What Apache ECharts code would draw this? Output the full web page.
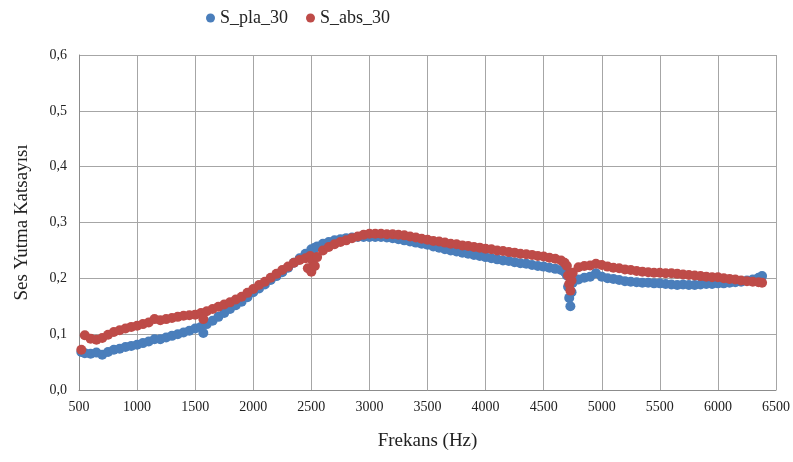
<!DOCTYPE html>
<html>
<head>
<meta charset="utf-8">
<script src="https://cdn.jsdelivr.net/npm/echarts@6/dist/echarts.min.js"></script>
<style>
  html, body { margin: 0; padding: 0; background: #fff; }
  #chart { width: 793px; height: 462px; }
</style>
</head>
<body>
<div id="chart"></div>
<script>
// frekans (Hz)
const freqs = [
  520, 550, 600, 650, 700, 750, 800, 850, 900, 950,
  1000, 1050, 1100, 1150, 1200, 1250, 1300, 1350, 1400, 1450,
  1500, 1550, 1570, 1600, 1650, 1700, 1750, 1800, 1850, 1900,
  1950, 2000, 2050, 2100, 2150, 2200, 2250, 2300, 2350, 2400,
  2450, 2470, 2490, 2500, 2510, 2530, 2550, 2600, 2650, 2700,
  2750, 2800, 2850, 2900, 2950, 3000, 3050, 3100, 3150, 3200,
  3250, 3300, 3350, 3400, 3450, 3500, 3550, 3600, 3650, 3700,
  3750, 3800, 3850, 3900, 3950, 4000, 4050, 4100, 4150, 4200,
  4250, 4300, 4350, 4400, 4450, 4500, 4550, 4600, 4650, 4680,
  4700, 4710, 4720, 4730, 4740, 4750, 4800, 4850, 4900, 4950,
  5000, 5050, 5100, 5150, 5200, 5250, 5300, 5350, 5400, 5450,
  5500, 5550, 5600, 5650, 5700, 5750, 5800, 5850, 5900, 5950,
  6000, 6050, 6100, 6150, 6200, 6250, 6300, 6350, 6380
];

const plaValues = [
  0.068, 0.066, 0.065, 0.067, 0.063, 0.068, 0.072, 0.074, 0.077, 0.079,
  0.081, 0.084, 0.087, 0.091, 0.091, 0.094, 0.097, 0.100, 0.103, 0.106,
  0.110, 0.113, 0.102, 0.118, 0.124, 0.131, 0.138, 0.145, 0.152, 0.158,
  0.166, 0.175, 0.182, 0.189, 0.197, 0.204, 0.211, 0.219, 0.228, 0.236,
  0.244, 0.238, 0.246, 0.252, 0.248, 0.255, 0.257, 0.262, 0.265, 0.268,
  0.270, 0.272, 0.273, 0.274, 0.274, 0.274, 0.274, 0.274, 0.273, 0.272,
  0.270, 0.268, 0.266, 0.264, 0.262, 0.260, 0.257, 0.255, 0.252, 0.250,
  0.248, 0.246, 0.244, 0.242, 0.240, 0.238, 0.236, 0.234, 0.232, 0.231,
  0.229, 0.227, 0.226, 0.224, 0.222, 0.221, 0.219, 0.217, 0.215, 0.212,
  0.205, 0.185, 0.165, 0.150, 0.175, 0.192, 0.198, 0.201, 0.203, 0.209,
  0.203, 0.200, 0.199, 0.197, 0.195, 0.194, 0.193, 0.192, 0.192, 0.191,
  0.191, 0.190, 0.189, 0.188, 0.189, 0.188, 0.188, 0.189, 0.190, 0.190,
  0.191, 0.191, 0.192, 0.193, 0.194, 0.196, 0.198, 0.201, 0.204
];

const absValues = [
  0.072, 0.098, 0.092, 0.090, 0.093, 0.099, 0.104, 0.107, 0.110, 0.113,
  0.115, 0.118, 0.121, 0.127, 0.125, 0.127, 0.129, 0.131, 0.133, 0.134,
  0.135, 0.138, 0.127, 0.141, 0.145, 0.149, 0.153, 0.157, 0.162, 0.167,
  0.174, 0.181, 0.188, 0.194, 0.201, 0.208, 0.215, 0.221, 0.228, 0.233,
  0.236, 0.218, 0.240, 0.212, 0.232, 0.222, 0.238, 0.250, 0.256, 0.261,
  0.265, 0.268, 0.272, 0.275, 0.278, 0.280, 0.280, 0.280, 0.279, 0.279,
  0.278, 0.277, 0.275, 0.273, 0.271, 0.269, 0.267, 0.266, 0.264, 0.262,
  0.261, 0.259, 0.258, 0.256, 0.255, 0.253, 0.252, 0.250, 0.249, 0.247,
  0.246, 0.244, 0.243, 0.242, 0.240, 0.239, 0.237, 0.235, 0.232, 0.228,
  0.222, 0.205, 0.190, 0.178, 0.196, 0.210, 0.220, 0.222, 0.223, 0.226,
  0.224, 0.221, 0.219, 0.218, 0.216, 0.215, 0.213, 0.212, 0.211, 0.210,
  0.210, 0.209, 0.209, 0.208, 0.207, 0.206, 0.205, 0.204, 0.203, 0.202,
  0.202, 0.200, 0.199, 0.198, 0.196, 0.195, 0.194, 0.193, 0.192
];

const seriesNames = ['S_pla_30', 'S_abs_30'];
const seriesColors = ['#4a7ebb', '#be4b48'];

const serif = 'Liberation Serif, Times New Roman, serif';

const pairs = (ys) => freqs.map((f, i) => [f, ys[i]]);

const chart = echarts.init(document.getElementById('chart'), null, { renderer: 'canvas' });

chart.setOption({
  animation: false,
  backgroundColor: '#fff',
  color: seriesColors,
  legend: {
    top: 4,
    left: 201,
    icon: 'circle',
    itemWidth: 9,
    itemHeight: 9,
    itemGap: 18,
    textStyle: { fontFamily: serif, fontSize: 18, color: '#222' },
    data: seriesNames
  },
  grid: { left: 79, right: 15, top: 55, bottom: 72 },
  xAxis: {
    type: 'value',
    min: 500,
    max: 6500,
    interval: 500,
    name: 'Frekans (Hz)',
    nameLocation: 'middle',
    nameGap: 42,
    nameTextStyle: { fontFamily: serif, fontSize: 19, color: '#222' },
    axisLine: { lineStyle: { color: '#8c8c8c' } },
    axisTick: { show: false },
    axisLabel: {
      fontFamily: serif, fontSize: 14, color: '#222', margin: 10,
      formatter: (v) => String(v)
    },
    splitLine: { show: true, lineStyle: { color: '#a6a6a6', width: 1 } }
  },
  yAxis: {
    type: 'value',
    min: 0,
    max: 0.6,
    interval: 0.1,
    name: 'Ses Yutma Katsayısı',
    nameLocation: 'middle',
    nameGap: 47,
    nameTextStyle: { fontFamily: serif, fontSize: 19, color: '#222' },
    axisLine: { show: true, lineStyle: { color: '#8c8c8c' } },
    axisTick: { show: false },
    axisLabel: {
      fontFamily: serif, fontSize: 14, color: '#222', margin: 12,
      formatter: (v) => v.toFixed(1).replace('.', ',')
    },
    splitLine: { show: true, lineStyle: { color: '#a6a6a6', width: 1 } }
  },
  series: [
    {
      name: seriesNames[0],
      type: 'scatter',
      symbol: 'circle',
      symbolSize: 10,
      itemStyle: { opacity: 1 },
      data: pairs(plaValues)
    },
    {
      name: seriesNames[1],
      type: 'scatter',
      symbol: 'circle',
      symbolSize: 10,
      itemStyle: { opacity: 1 },
      data: pairs(absValues)
    }
  ]
});
</script>
</body>
</html>
